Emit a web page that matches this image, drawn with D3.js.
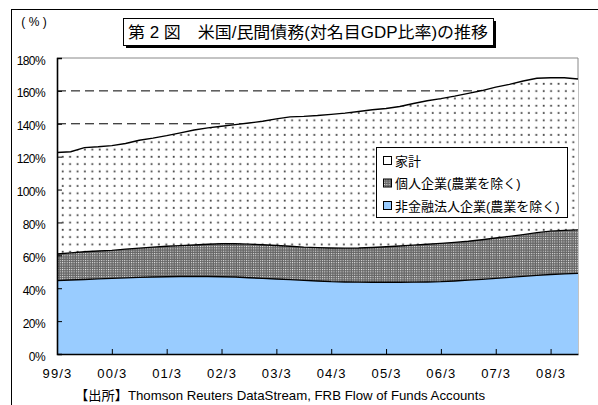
<!DOCTYPE html>
<html><head><meta charset="utf-8">
<script src="https://cdn.jsdelivr.net/npm/d3@7"></script>
<style>
html,body{margin:0;padding:0;background:#fff;overflow:hidden}
svg{display:block}
text{font-family:"Liberation Sans",Arial,"Noto Sans CJK JP",sans-serif}
.jp{font-family:"Liberation Sans",Arial,"Noto Sans CJK JP",sans-serif}
</style></head>
<body>
<script>
// ---- data ----
const quarters = [];
["99","00","01","02","03","04","05","06","07","08"].forEach(y => ["3","6","9","12"].forEach(m => quarters.push(y + "/" + m)));
quarters.length = 39; // 99/3 .. 08/9
const tickLabels = ["99/3","00/3","01/3","02/3","03/3","04/3","05/3","06/3","07/3","08/3"];
const yTicks = [0,20,40,60,80,100,120,140,160,180];
const seriesNames = ["非金融法人企業(農業を除く)","個人企業(農業を除く)","家計"];
const nonfinancial = [44.6,45,45.3,45.7,46,46.3,46.6,46.8,47,47.1,47.2,47.1,47,46.8,46.4,46,45.6,45.2,44.8,44.4,44,43.8,43.7,43.6,43.6,43.6,43.7,43.8,44,44.4,44.9,45.4,46,46.6,47.2,47.8,48.3,48.7,49];
const proprietors = [16.2,16.5,16.9,16.9,17.0,17.5,17.8,18.2,18.5,18.8,19.1,19.6,20.0,20.2,20.4,20.4,20.4,20.3,20.2,20.3,20.5,20.6,20.8,21.2,21.6,22.1,22.5,22.9,23.3,23.5,23.7,24.1,24.5,24.9,25.4,26.0,26.4,26.5,26.5];
const households = [61.7,61.5,63.3,63.4,63.7,64.2,65.6,66.3,67.3,68.6,69.9,70.8,71.5,72.5,73.7,75.1,77.0,78.7,79.5,80.3,81.2,82.1,83.0,83.7,84.1,84.8,86.1,87.3,88.0,88.9,89.9,90.7,91.8,92.5,93.4,93.9,93.3,92.8,91.7];
const titleText = "第 2 図　米国/民間債務(対名目GDP比率)の推移";
const sourceText = "【出所】Thomson Reuters DataStream, FRB Flow of Funds Accounts";

// ---- layout ----
const W = 598, H = 405;
const svg = d3.select("body").append("svg").attr("width", W).attr("height", H);
const defs = svg.append("defs");
const pDots = defs.append("pattern").attr("id","dots").attr("patternUnits","userSpaceOnUse")
  .attr("width",7.4).attr("height",7.3);
pDots.append("rect").attr("width",7.4).attr("height",7.3).attr("fill","#fff");
pDots.append("rect").attr("x",2.6).attr("y",2.6).attr("width",1.8).attr("height",1.8).attr("fill","#444");
const pChk = defs.append("pattern").attr("id","chk").attr("patternUnits","userSpaceOnUse")
  .attr("width",2.3).attr("height",2.3);
pChk.append("rect").attr("width",2.3).attr("height",2.3).attr("fill","#666");
pChk.append("rect").attr("width",1).attr("height",1).attr("fill","#eee");

// outer frame (extends past the window)
svg.append("rect").attr("x",11.5).attr("y",9.5).attr("width",700).attr("height",500)
  .attr("fill","none").attr("stroke","#000").attr("stroke-width",1);

const x = d3.scalePoint().domain(quarters).range([57, 578]);
const y = d3.scaleLinear().domain([0,180]).range([354, 58]);

// dashed gridlines
svg.append("g").selectAll("line").data(yTicks.filter(v => v > 0 && v < 180)).join("line")
  .attr("x1",57).attr("x2",578).attr("y1",d=>y(d)).attr("y2",d=>y(d))
  .attr("stroke","#000").attr("stroke-width",1).attr("stroke-dasharray","9,5");

// plot border (top/right)
svg.append("path").attr("d",`M57,${y(180)}H578V${y(0)}`).attr("fill","none")
  .attr("stroke","#888").attr("stroke-width",1);

// stacked areas
const rows = quarters.map((q,i) => ({q, a: nonfinancial[i], b: proprietors[i], c: households[i]}));
const stack = d3.stack().keys(["a","b","c"])(rows);
const fills = ["#99CCFF","url(#chk)","url(#dots)"];
const area = d3.area().x(d => x(d.data.q)).y0(d => y(d[0])).y1(d => y(d[1]));
const line = d3.line().x(d => x(d.data.q)).y(d => y(d[1]));
svg.append("g").selectAll("path").data(stack).join("path")
  .attr("d", area).attr("fill",(d,i)=>fills[i]);
svg.append("g").selectAll("path").data(stack).join("path")
  .attr("d", line).attr("fill","none").attr("stroke","#000").attr("stroke-width",1.4);

// axes
const yAxis = d3.axisLeft(y).tickValues(yTicks).tickSize(-5).tickPadding(12).tickFormat(d => d + "%");
const gy = svg.append("g").attr("transform","translate(57,0)").call(yAxis);
gy.select(".domain").attr("stroke","#000").attr("stroke-width",1.6);
gy.selectAll("text").attr("font-size",12).attr("fill","#000").attr("dy","0.5em").attr("letter-spacing",-0.6);
gy.selectAll(".tick line").attr("stroke","#000");

const xAxis = d3.axisBottom(x).tickValues(tickLabels).tickSize(-5).tickPadding(16).tickSizeOuter(0);
const gx = svg.append("g").attr("transform","translate(0,354)").call(xAxis);
gx.select(".domain").attr("stroke","#000").attr("stroke-width",1.6);
gx.selectAll("text").attr("font-size",13).attr("fill","#000").attr("letter-spacing",1.2).attr("dy","0.6em");
gx.selectAll(".tick line").attr("stroke","#000");

// (%) label
svg.append("text").attr("x",34).attr("y",26).attr("text-anchor","middle").attr("font-size",12)
  .attr("xml:space","preserve").text("( % )");

// title box
svg.append("rect").attr("x",126).attr("y",21).attr("width",370).attr("height",27).attr("fill","#000");
svg.append("rect").attr("x",123.5).attr("y",18.5).attr("width",370).attr("height",27)
  .attr("fill","#fff").attr("stroke","#000").attr("stroke-width",1);
svg.append("text").attr("class","jp").attr("x",128).attr("y",38).attr("font-size",16)
  .attr("xml:space","preserve")
  .attr("textLength",360).attr("lengthAdjust","spacingAndGlyphs").text(titleText);

// legend
const lg = svg.append("g");
lg.append("rect").attr("x",376.5).attr("y",147.5).attr("width",191).attr("height",70)
  .attr("fill","#fff").attr("stroke","#000").attr("stroke-width",1);
const legendItems = [
  {name: seriesNames[2], fill: "url(#dots)", y: 161},
  {name: seriesNames[1], fill: "url(#chk)", y: 183.5},
  {name: seriesNames[0], fill: "#99CCFF", y: 206}
];
legendItems.forEach(it => {
  lg.append("rect").attr("x",383.5).attr("y",it.y-4.5).attr("width",8).attr("height",8)
    .attr("fill",it.fill === "url(#dots)" ? "#fff" : it.fill).attr("stroke","#000").attr("stroke-width",1);
  lg.append("text").attr("class","jp").attr("x",395).attr("y",it.y).attr("dy","0.36em")
    .attr("font-size",13).text(it.name);
});

// source
svg.append("text").attr("class","jp").attr("x",75).attr("y",395).attr("dy","0.36em")
  .attr("font-size",13).attr("textLength",410).attr("lengthAdjust","spacingAndGlyphs").text(sourceText);
</script>
</body></html>
